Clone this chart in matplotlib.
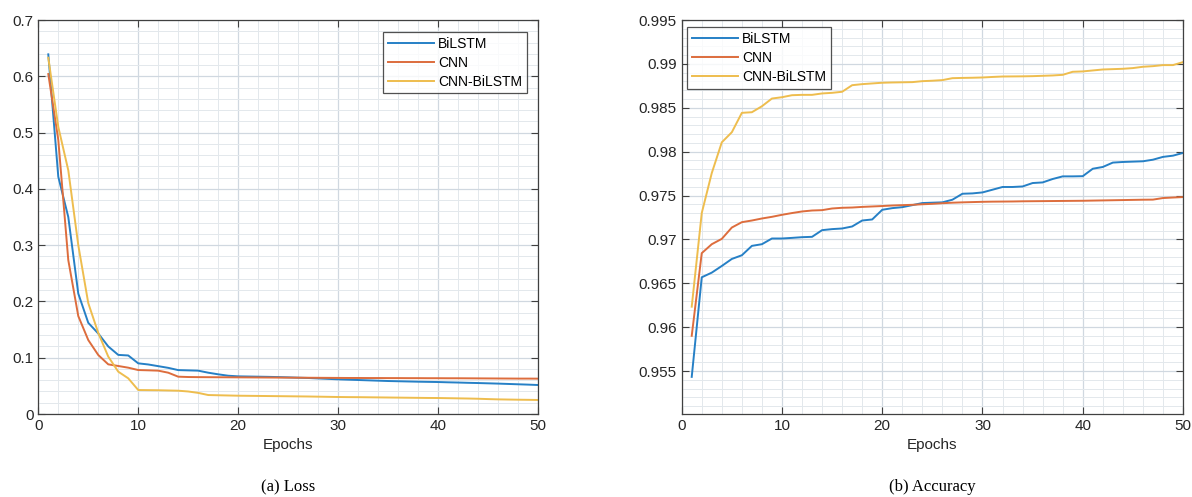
import matplotlib
matplotlib.use("Agg")
import matplotlib.pyplot as plt
from matplotlib.ticker import MultipleLocator, FixedLocator

# epochs 1..50
epochs = list(range(1, 51))
labels = ['BiLSTM', 'CNN', 'CNN-BiLSTM']
colors = ['#2680c6', '#dd6d3d', '#eebd4e']

# (a) training loss
loss_bilstm = [0.639, 0.4215, 0.350, 0.214, 0.162, 0.143, 0.120, 0.105, 0.104, 0.090,
               0.088, 0.085, 0.082, 0.078, 0.0775, 0.077, 0.0734, 0.0705, 0.068, 0.0669,
               0.0666, 0.0663, 0.066, 0.0656, 0.0651, 0.0645, 0.064, 0.0632, 0.0624, 0.0616,
               0.061, 0.0604, 0.0598, 0.0592, 0.0586, 0.0582, 0.0578, 0.0574, 0.0571, 0.0568,
               0.0563, 0.0559, 0.0554, 0.055, 0.0545, 0.054, 0.0534, 0.0528, 0.0522, 0.0515]
loss_cnn = [0.604, 0.487, 0.2735, 0.174, 0.1314, 0.1048, 0.0882, 0.0853, 0.0823, 0.0781,
            0.0776, 0.077, 0.0734, 0.0663, 0.0657, 0.0655, 0.0654, 0.0653, 0.0652, 0.0651,
            0.065, 0.0649, 0.0648, 0.0647, 0.0646, 0.0645, 0.0644, 0.0643, 0.0642, 0.0641,
            0.064, 0.064, 0.0639, 0.0639, 0.0638, 0.0638, 0.0637, 0.0637, 0.0636, 0.0636,
            0.0635, 0.0635, 0.0634, 0.0633, 0.0632, 0.0631, 0.063, 0.0629, 0.0629, 0.0628]
loss_cnn_bilstm = [0.633, 0.51, 0.433, 0.30, 0.197, 0.144, 0.102, 0.0752, 0.0634, 0.0426,
                   0.0424, 0.0422, 0.0418, 0.0414, 0.040, 0.0375, 0.0337, 0.0333, 0.0329, 0.0325,
                   0.0323, 0.0321, 0.0319, 0.0317, 0.0315, 0.0313, 0.0311, 0.0308, 0.0305, 0.0302,
                   0.0300, 0.0299, 0.0297, 0.0295, 0.0293, 0.0291, 0.0289, 0.0287, 0.0285, 0.0284,
                   0.0281, 0.0278, 0.0275, 0.0271, 0.0265, 0.026, 0.0257, 0.0254, 0.0252, 0.0249]

# (b) training accuracy
acc_bilstm = [0.95433, 0.96568, 0.96621, 0.96697, 0.96777, 0.96819, 0.96926, 0.96945, 0.9701, 0.9701,
              0.97017, 0.97025, 0.97029, 0.97105, 0.97117, 0.97124, 0.97147, 0.97215, 0.97227, 0.97337,
              0.97356, 0.97367, 0.9739, 0.97414, 0.97418, 0.97422, 0.97452, 0.9752, 0.97524, 0.97535,
              0.97566, 0.97597, 0.97597, 0.97603, 0.97642, 0.97649, 0.97688, 0.97718, 0.97718, 0.9772,
              0.97805, 0.97825, 0.97875, 0.97882, 0.97886, 0.9789, 0.97908, 0.9794, 0.97954, 0.97985]
acc_cnn = [0.95901, 0.96843, 0.96945, 0.97006, 0.97135, 0.97196, 0.97215, 0.97238, 0.97257, 0.9728,
           0.973, 0.97318, 0.97329, 0.97333, 0.97352, 0.9736, 0.97363, 0.9737, 0.97375, 0.9738,
           0.97386, 0.9739, 0.97394, 0.974, 0.97405, 0.97412, 0.97418, 0.97422, 0.97425, 0.97428,
           0.9743, 0.97431, 0.97432, 0.97434, 0.97435, 0.97436, 0.97437, 0.97438, 0.97439, 0.9744,
           0.97442, 0.97444, 0.97446, 0.97448, 0.9745, 0.97452, 0.97453, 0.97471, 0.97477, 0.97482]
acc_cnn_bilstm = [0.96233, 0.9730, 0.97756, 0.98106, 0.98221, 0.98442, 0.98449, 0.98517, 0.98605, 0.9862,
                  0.98643, 0.98647, 0.98647, 0.98663, 0.9867, 0.98682, 0.98757, 0.98769, 0.98777, 0.98785,
                  0.98788, 0.9879, 0.98792, 0.98803, 0.98808, 0.98815, 0.98837, 0.9884, 0.98842, 0.98845,
                  0.98851, 0.98856, 0.98857, 0.98858, 0.9886, 0.98864, 0.98868, 0.98875, 0.9891, 0.98914,
                  0.98925, 0.98936, 0.9894, 0.98944, 0.98952, 0.98967, 0.98974, 0.98986, 0.98986, 0.9902]

loss_ticks = [0, 0.1, 0.2, 0.3, 0.4, 0.5, 0.6, 0.7]
loss_ticklabels = ['0', '0.1', '0.2', '0.3', '0.4', '0.5', '0.6', '0.7']
acc_ticks = [0.955, 0.96, 0.965, 0.97, 0.975, 0.98, 0.985, 0.99, 0.995]
acc_ticklabels = ['0.955', '0.96', '0.965', '0.97', '0.975', '0.98', '0.985', '0.99', '0.995']

plt.rcParams['font.family'] = ['Liberation Sans', 'DejaVu Sans']

fig = plt.figure(figsize=(11.92, 4.97), dpi=100)
ax1 = fig.add_axes([38.3 / 1192, 83 / 497, 499.7 / 1192, 394 / 497])
ax2 = fig.add_axes([681.7 / 1192, 83 / 497, 501.3 / 1192, 394 / 497])


def style_axes(ax, yminor):
    ax.set_xlim(0, 50)
    ax.xaxis.set_major_locator(MultipleLocator(10))
    ax.xaxis.set_minor_locator(MultipleLocator(2))
    ax.yaxis.set_minor_locator(MultipleLocator(yminor))
    ax.grid(True, which='major', color='#d0d8e0', lw=0.9)
    ax.grid(True, which='minor', color='#e3e8ec', lw=0.7)
    ax.set_axisbelow(True)
    ax.tick_params(which='both', direction='in', top=True, right=True,
                   labelsize=11, color='#404040', labelcolor='#262626')
    ax.tick_params(which='major', length=5, width=0.8)
    ax.tick_params(which='minor', length=0)
    for s in ax.spines.values():
        s.set_color('#404040')
        s.set_linewidth(0.9)
    ax.set_xlabel('Epochs', fontsize=11, color='#262626', labelpad=4)


for ys, c, lab in zip([loss_bilstm, loss_cnn, loss_cnn_bilstm], colors, labels):
    ax1.plot(epochs, ys, color=c, lw=1.4, label=lab)
ax1.set_ylim(0, 0.7)
ax1.yaxis.set_major_locator(FixedLocator(loss_ticks))
ax1.set_yticklabels(loss_ticklabels)
style_axes(ax1, 0.02)

for ys, c, lab in zip([acc_bilstm, acc_cnn, acc_cnn_bilstm], colors, labels):
    ax2.plot(epochs, ys, color=c, lw=1.4, label=lab)
ax2.set_ylim(0.9501, 0.995)
ax2.yaxis.set_major_locator(FixedLocator(acc_ticks))
ax2.set_yticklabels(acc_ticklabels)
style_axes(ax2, 0.001)

leg_kw = dict(fontsize=10, frameon=True, fancybox=False, edgecolor='#262626',
              handlelength=3.3, handletextpad=0.3, labelspacing=0.35,
              borderpad=0.35, borderaxespad=0)
l1 = ax1.legend(loc='upper right', bbox_to_anchor=(0.978, 0.9695), **leg_kw)
l2 = ax2.legend(loc='upper left', bbox_to_anchor=(0.0106, 0.982), **leg_kw)
for l in (l1, l2):
    l.get_frame().set_linewidth(0.9)

fig.text(288 / 1192, 1 - 487 / 497, '(a) Loss', ha='center', va='center',
         family=['Liberation Serif', 'DejaVu Serif'], fontsize=12)
fig.text(932 / 1192, 1 - 487 / 497, '(b) Accuracy', ha='center', va='center',
         family=['Liberation Serif', 'DejaVu Serif'], fontsize=12)

fig.savefig('out.png', dpi=100, facecolor='white')
